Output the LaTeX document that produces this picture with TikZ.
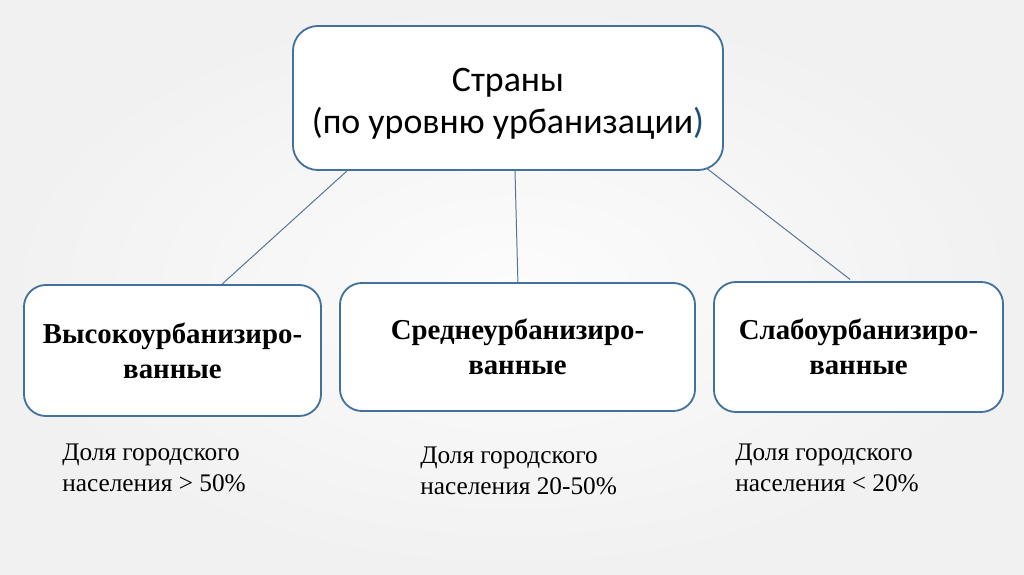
\documentclass[tikz,border=0pt]{standalone}
\usepackage{fontspec}
\setmainfont{Liberation Serif}
\newfontfamily\calibrifont{Carlito}
\usetikzlibrary{positioning}
\definecolor{boxline}{RGB}{65,113,156}
\definecolor{linkline}{RGB}{84,116,152}
\definecolor{bgin}{RGB}{252,252,252}
\definecolor{bgout}{RGB}{241,241,241}
\definecolor{bracket}{RGB}{31,78,121}

\begin{document}
\begin{tikzpicture}[x=0.025cm, y=-0.025cm,
  box/.style = {draw=boxline, line width=1.3pt, fill=white, align=center, inner sep=0pt},
  kind/.style = {box, rounded corners=0.55cm, font=\fontsize{20.5}{25}\selectfont\bfseries},
  share/.style = {anchor=north west, inner sep=0pt, align=left, font=\fontsize{18}{22}\selectfont},
  link/.style = {draw=linkline, line width=0.7pt} ]

%--- Background ---
\shade[inner color=bgin, outer color=bgout] (0,0) rectangle (1024,574);
\useasboundingbox (0,0) rectangle (1024,574);

%--- Nodes ---
% countries
\node[box, rounded corners=0.625cm, minimum width=10.75cm, minimum height=3.6cm,
      font=\calibrifont\fontsize{25.5}{30}\selectfont] (countries) at (508,98)
      {\\[-0.2cm]Страны\\(по уровню урбанизации\textcolor{bracket}{)}};

% high
\node[kind, minimum width=7.425cm, minimum height=3.275cm] (high) at (172.5,350.5)
      {Высокоурбанизиро-\\ванные};

% middle
\node[kind, minimum width=8.875cm, minimum height=3.2cm] (middle) at (517.5,347)
      {Среднеурбанизиро-\\ванные};

% low
\node[kind, minimum width=7.225cm, minimum height=3.25cm] (low) at (858.5,347)
      {Слабоурбанизиро-\\ванные};

% shares
\node[share] (shareHigh) at (62,444) {Доля городского\\населения > 50\%};
\node[share] (shareMiddle) at (420,447) {Доля городского\\населения 20-50\%};
\node[share] (shareLow) at (735,444) {Доля городского\\населения < 20\%};

%--- countries -> groups ---
\draw[link] ([xshift=-4.025cm]countries.south) -- ([xshift=1.24cm]high.north);
\draw[link] ([xshift=0.175cm]countries.south) -- ([xshift=0.01cm]middle.north);
\draw[link] ([xshift=-0.425cm,yshift=0.06cm]countries.south east) -- ([xshift=-0.21cm,yshift=0.04cm]low.north);

\end{tikzpicture}
\end{document}
